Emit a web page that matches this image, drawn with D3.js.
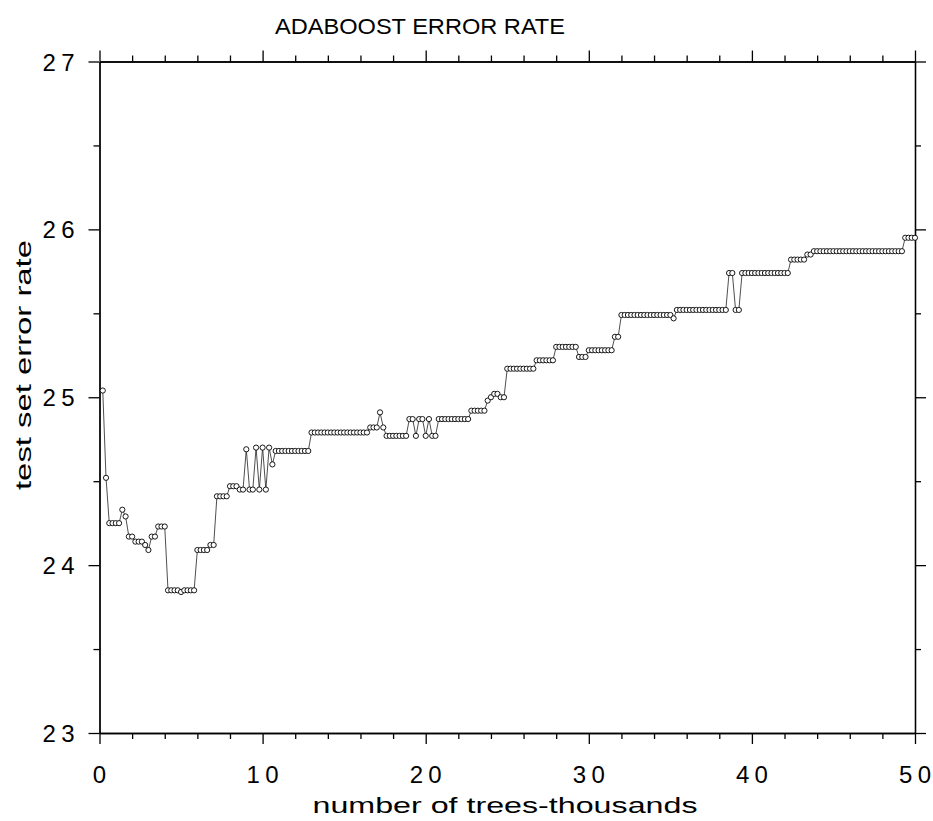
<!DOCTYPE html>
<html>
<head>
<meta charset="utf-8">
<script src="https://cdnjs.cloudflare.com/ajax/libs/d3/7.8.5/d3.min.js"></script>
<style>
  body { margin: 0; background: #fff; }
  text { font-family: "Liberation Sans", Arial, sans-serif; fill: #000; }
</style>
</head>
<body>
<div id="chart"></div>
<script>
// test set error rate (%), one point every 200 trees (0.2 thousand)
const errorRate = [
  25.04, 24.52, 24.25, 24.25, 24.25, 24.25, 24.33, 24.29, 24.17, 24.17,
  24.14, 24.14, 24.14, 24.12, 24.09, 24.17, 24.17, 24.23, 24.23, 24.23,
  23.85, 23.85, 23.85, 23.85, 23.84, 23.85, 23.85, 23.85, 23.85, 24.09,
  24.09, 24.09, 24.09, 24.12, 24.12, 24.41, 24.41, 24.41, 24.41, 24.47,
  24.47, 24.47, 24.45, 24.45, 24.69, 24.45, 24.45, 24.70, 24.45, 24.70,
  24.45, 24.70, 24.60, 24.68, 24.68, 24.68, 24.68, 24.68, 24.68, 24.68,
  24.68, 24.68, 24.68, 24.68, 24.79, 24.79, 24.79, 24.79, 24.79, 24.79,
  24.79, 24.79, 24.79, 24.79, 24.79, 24.79, 24.79, 24.79, 24.79, 24.79,
  24.79, 24.79, 24.82, 24.82, 24.82, 24.91, 24.82, 24.77, 24.77, 24.77,
  24.77, 24.77, 24.77, 24.77, 24.87, 24.87, 24.77, 24.87, 24.87, 24.77,
  24.87, 24.77, 24.77, 24.87, 24.87, 24.87, 24.87, 24.87, 24.87, 24.87,
  24.87, 24.87, 24.87, 24.92, 24.92, 24.92, 24.92, 24.92, 24.98, 25.00,
  25.02, 25.02, 25.00, 25.00, 25.17, 25.17, 25.17, 25.17, 25.17, 25.17,
  25.17, 25.17, 25.17, 25.22, 25.22, 25.22, 25.22, 25.22, 25.22, 25.30,
  25.30, 25.30, 25.30, 25.30, 25.30, 25.30, 25.24, 25.24, 25.24, 25.28,
  25.28, 25.28, 25.28, 25.28, 25.28, 25.28, 25.28, 25.36, 25.36, 25.49,
  25.49, 25.49, 25.49, 25.49, 25.49, 25.49, 25.49, 25.49, 25.49, 25.49,
  25.49, 25.49, 25.49, 25.49, 25.49, 25.47, 25.52, 25.52, 25.52, 25.52,
  25.52, 25.52, 25.52, 25.52, 25.52, 25.52, 25.52, 25.52, 25.52, 25.52,
  25.52, 25.52, 25.74, 25.74, 25.52, 25.52, 25.74, 25.74, 25.74, 25.74,
  25.74, 25.74, 25.74, 25.74, 25.74, 25.74, 25.74, 25.74, 25.74, 25.74,
  25.74, 25.82, 25.82, 25.82, 25.82, 25.82, 25.85, 25.85, 25.87, 25.87,
  25.87, 25.87, 25.87, 25.87, 25.87, 25.87, 25.87, 25.87, 25.87, 25.87,
  25.87, 25.87, 25.87, 25.87, 25.87, 25.87, 25.87, 25.87, 25.87, 25.87,
  25.87, 25.87, 25.87, 25.87, 25.87, 25.87, 25.95, 25.95, 25.95, 25.95
];
const treeStep = 0.2; // thousands of trees between points

const xMajorTicks = [0, 10, 20, 30, 40, 50];
const xMinorTicks = [2, 4, 6, 8, 12, 14, 16, 18, 22, 24, 26, 28, 32, 34, 36, 38, 42, 44, 46, 48];
const yMajorTicks = [23, 24, 25, 26, 27];
const yMinorTicks = [23.5, 24.5, 25.5, 26.5];

const title = "ADABOOST ERROR RATE";
const xLabel = "number of trees-thousands";
const yLabel = "test set error rate";

const data = errorRate.map((v, i) => ({ trees: (i + 1) * treeStep, rate: v }));

const W = 933, H = 821;
const margin = { left: 99.5, right: 18, top: 61.5, bottom: 88 };
const width = W - margin.left - margin.right;
const height = H - margin.top - margin.bottom;

const svg = d3.select("#chart")
  .append("svg")
    .attr("width", W)
    .attr("height", H);

const g = svg.append("g")
  .attr("transform", `translate(${margin.left},${margin.top})`);

const xScale = d3.scaleLinear().domain([0, 50]).range([0, width]);
const yScale = d3.scaleLinear().domain([23, 27]).range([height, 0]);

// axes: major ticks 11px outward, minor ticks 6px outward, all four sides
function styleAxis(sel) {
  sel.selectAll("path, line").attr("stroke", "#000").attr("stroke-width", 1.3);
  sel.selectAll("text").remove();
}

g.append("g").attr("transform", `translate(0,${height})`)
  .call(d3.axisBottom(xScale).tickValues(xMinorTicks).tickSizeInner(6).tickSizeOuter(0))
  .call(styleAxis);
g.append("g").attr("transform", `translate(0,${height})`)
  .call(d3.axisBottom(xScale).tickValues(xMajorTicks).tickSizeInner(11).tickSizeOuter(0))
  .call(styleAxis);
g.append("g")
  .call(d3.axisTop(xScale).tickValues(xMinorTicks).tickSizeInner(6).tickSizeOuter(0))
  .call(styleAxis);
g.append("g")
  .call(d3.axisTop(xScale).tickValues(xMajorTicks).tickSizeInner(11).tickSizeOuter(0))
  .call(styleAxis);
g.append("g")
  .call(d3.axisLeft(yScale).tickValues(yMinorTicks).tickSizeInner(6).tickSizeOuter(0))
  .call(styleAxis);
g.append("g")
  .call(d3.axisLeft(yScale).tickValues(yMajorTicks).tickSizeInner(11).tickSizeOuter(0))
  .call(styleAxis);
g.append("g").attr("transform", `translate(${width},0)`)
  .call(d3.axisRight(yScale).tickValues(yMinorTicks).tickSizeInner(6).tickSizeOuter(0))
  .call(styleAxis);
g.append("g").attr("transform", `translate(${width},0)`)
  .call(d3.axisRight(yScale).tickValues(yMajorTicks).tickSizeInner(11).tickSizeOuter(0))
  .call(styleAxis);

// tick labels (spaced digits)
g.selectAll(".xlab")
  .data(xMajorTicks)
  .enter().append("text")
    .attr("class", "xlab")
    .attr("x", d => xScale(d))
    .attr("y", height + 50)
    .attr("text-anchor", "middle")
    .attr("font-size", 24)
    .attr("textLength", d => String(d).length > 1 ? 32 : null)
    .attr("lengthAdjust", "spacing")
    .text(d => d);

g.selectAll(".ylab")
  .data(yMajorTicks)
  .enter().append("text")
    .attr("class", "ylab")
    .attr("x", -25)
    .attr("y", d => yScale(d) + 9)
    .attr("text-anchor", "end")
    .attr("font-size", 24)
    .attr("textLength", 32)
    .attr("lengthAdjust", "spacing")
    .text(d => d);

// connecting line, then open circles
g.append("path")
  .datum(data)
  .attr("fill", "none")
  .attr("stroke", "#222")
  .attr("stroke-width", 0.8)
  .attr("d", d3.line()
    .x(d => xScale(d.trees))
    .y(d => yScale(d.rate)));

g.selectAll(".pt")
  .data(data)
  .enter().append("circle")
    .attr("class", "pt")
    .attr("cx", d => xScale(d.trees))
    .attr("cy", d => yScale(d.rate))
    .attr("r", 2.6)
    .attr("fill", "#fff")
    .attr("stroke", "#000")
    .attr("stroke-width", 0.9);

// titles
svg.append("text")
  .attr("x", 275)
  .attr("y", 34)
  .attr("font-size", 22)
  .attr("textLength", 290)
  .attr("lengthAdjust", "spacingAndGlyphs")
  .text(title);

svg.append("text")
  .attr("x", 505)
  .attr("y", 813)
  .attr("text-anchor", "middle")
  .attr("font-size", 22)
  .attr("textLength", 385)
  .attr("lengthAdjust", "spacingAndGlyphs")
  .text(xLabel);

svg.append("text")
  .attr("transform", "translate(31,365) rotate(-90)")
  .attr("text-anchor", "middle")
  .attr("font-size", 22)
  .attr("textLength", 250)
  .attr("lengthAdjust", "spacingAndGlyphs")
  .text(yLabel);
</script>
</body>
</html>
